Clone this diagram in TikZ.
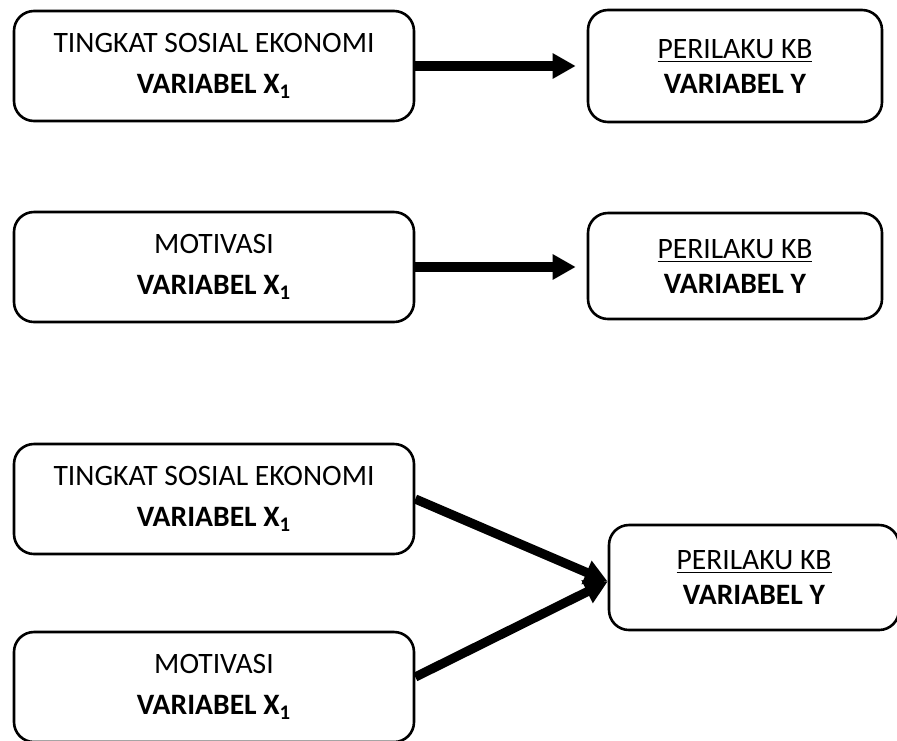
\documentclass[tikz,border=0pt]{standalone}
\usepackage{fontspec}
\setmainfont{Carlito}
\usetikzlibrary{arrows.meta}
\begin{document}
\begin{tikzpicture}[x=0.5pt, y=-0.5pt,
        varbox/.style={draw, line width=1.3pt, rounded corners=10pt, align=center, inner sep=0pt},
        leftbox/.style={varbox, minimum width=200pt, minimum height=55pt, font=\fontsize{14.8}{20.5}\selectfont},
        rightbox/.style={varbox, minimum width=147pt, minimum height=53pt, font=\fontsize{14.8}{17.5}\selectfont},
        link/.style={-{Triangle[length=11.5pt,width=12pt]}, line width=4.6pt}]
        \useasboundingbox (0,0) rectangle (897,740);

        % first pair
        \node[leftbox] (sosial1) at (214,66) {TINGKAT SOSIAL EKONOMI\\ \textbf{VARIABEL X\textsubscript{1}}};
        \node[rightbox, minimum height=56pt] (perilaku1) at (735,66) {\underline{PERILAKU KB}\\ \textbf{VARIABEL Y}};
        \draw[link, shorten >=5.5pt] (sosial1.east) -- (sosial1.east -| perilaku1.west);

        % second pair
        \node[leftbox] (motivasi1) at (214,267) {MOTIVASI\\ \textbf{VARIABEL X\textsubscript{1}}};
        \node[rightbox] (perilaku2) at (735,266) {\underline{PERILAKU KB}\\ \textbf{VARIABEL Y}};
        \draw[link, shorten >=5.5pt] (motivasi1.east) -- (motivasi1.east -| perilaku2.west);

        % both together
        \node[leftbox] (sosial2) at (214,499) {TINGKAT SOSIAL EKONOMI\\ \textbf{VARIABEL X\textsubscript{1}}};
        \node[leftbox] (motivasi2) at (214,687) {MOTIVASI\\ \textbf{VARIABEL X\textsubscript{1}}};
        \node[rightbox, minimum width=145pt, minimum height=52.5pt] (perilaku3) at (754,577.5) {\underline{PERILAKU KB}\\ \textbf{VARIABEL Y}};
        \coordinate (tip) at ([yshift=-2pt]perilaku3.west);
        \draw[link] (sosial2.east) -- (tip);
        \draw[link] ([yshift=5pt]motivasi2.east) -- (tip);
    \end{tikzpicture}
\end{document}
